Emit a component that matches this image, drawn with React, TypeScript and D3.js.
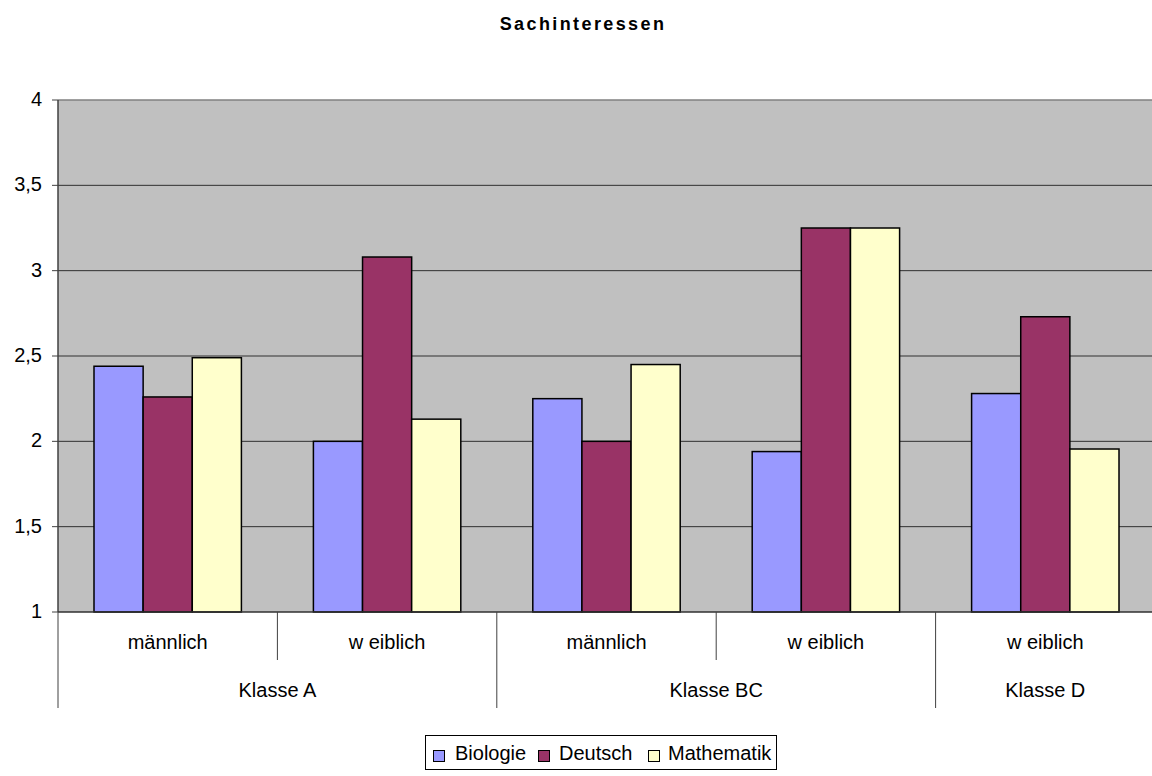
import React from "react";
import * as d3 from "d3";

const groups = ["A-m", "A-w", "BC-m", "BC-w", "D-w"];
const genderLabels = ["männlich", "w eiblich", "männlich", "w eiblich", "w eiblich"];
const classLabels = ["Klasse A", "Klasse BC", "Klasse D"];
const classSpans = [2, 2, 1];
const seriesNames = ["Biologie", "Deutsch", "Mathematik"];
const seriesColors = ["#9999FF", "#993366", "#FFFFCC"];
const biologie = [2.44, 2.0, 2.25, 1.94, 2.28];
const deutsch = [2.26, 3.08, 2.0, 3.25, 2.73];
const mathematik = [2.49, 2.13, 2.45, 3.25, 1.955];
const yTicks = [1, 1.5, 2, 2.5, 3, 3.5, 4];
const title = "Sachinteressen";

const W = 1152, H = 776;
const left = 58, right = 1155, top = 100, bottom = 612;
const FONT = "'Liberation Sans', Arial, sans-serif";

function T({ x, y, anchor = "middle", size = 20, bold = false, spacing = 0, children }: any) {
  return (
    <text
      x={x}
      y={y}
      textAnchor={anchor}
      fontFamily={FONT}
      fontSize={size}
      fontWeight={bold ? "bold" : "normal"}
      letterSpacing={spacing}
      fill="#000"
    >
      {children}
    </text>
  );
}

export default function App() {
  const series = [biologie, deutsch, mathematik];
  const x0 = d3.scaleBand().domain(groups).range([left, right]).paddingInner(0).paddingOuter(0);
  const bw = x0.bandwidth();
  const pad = 36 / 219.4;
  const x1 = d3
    .scaleBand()
    .domain(seriesNames)
    .range([bw * pad, bw * (1 - pad)])
    .padding(0);
  const y = d3.scaleLinear().domain([1, 4]).range([bottom, top]);
  const fmt = (v: number) => String(v).replace(".", ",");

  const boundaries: number[] = [];
  let idx = 0;
  const classCenters: number[] = [];
  classSpans.forEach((s) => {
    const start = x0(groups[idx])!;
    const endIdx = idx + s - 1;
    const end = x0(groups[endIdx])! + bw;
    classCenters.push((start + end) / 2);
    idx += s;
    boundaries.push(end);
  });

  return (
    <svg width={W} height={H} style={{ position: "absolute", left: 0, top: 0 }}>
      <rect x={0} y={0} width={W} height={H} fill="#fff" />
      <T x={583} y={30} size={18} bold spacing={2.4}>
        {title}
      </T>
      <rect x={left} y={top} width={right - left} height={bottom - top} fill="#C0C0C0" />
      <line x1={left} x2={right} y1={y(4)} y2={y(4)} stroke="#808080" strokeWidth={1.5} />
      {yTicks.slice(1, -1).map((t) => (
        <line key={t} x1={left} x2={right} y1={y(t)} y2={y(t)} stroke="#303030" strokeWidth={1} />
      ))}
      {groups.map((g, gi) =>
        series.map((s, si) => (
          <rect
            key={g + si}
            x={x0(g)! + x1(seriesNames[si])!}
            y={y(s[gi])}
            width={x1.bandwidth()}
            height={bottom - y(s[gi])}
            fill={seriesColors[si]}
            stroke="#000"
            strokeWidth={1.5}
          />
        ))
      )}
      <line x1={left} x2={left} y1={top} y2={bottom} stroke="#404040" strokeWidth={1.5} />
      {yTicks.map((t) => (
        <g key={t}>
          <line x1={left - 6} x2={left} y1={y(t)} y2={y(t)} stroke="#404040" strokeWidth={1} />
          <T x={42} y={y(t) + 6} anchor="end">
            {fmt(t)}
          </T>
        </g>
      ))}
      <line x1={left} x2={right} y1={bottom} y2={bottom} stroke="#303030" strokeWidth={1.5} />
      <line x1={left} x2={left} y1={bottom} y2={708} stroke="#404040" strokeWidth={1} />
      {groups.map((g, gi) => {
        const xe = x0(g)! + bw;
        const isClassBoundary = boundaries.some((b) => Math.abs(b - xe) < 0.5);
        return (
          <g key={g}>
            {xe < W && (
              <line
                x1={xe}
                x2={xe}
                y1={bottom}
                y2={isClassBoundary ? 708 : 660}
                stroke="#404040"
                strokeWidth={1}
              />
            )}
            <T x={x0(g)! + bw / 2} y={649}>
              {genderLabels[gi]}
            </T>
          </g>
        );
      })}
      {classLabels.map((c, ci) => (
        <T key={c} x={classCenters[ci]} y={697}>
          {c}
        </T>
      ))}
      <rect x={425.5} y={735.5} width={351} height={34} fill="#fff" stroke="#000" strokeWidth={1} />
      {seriesNames.map((n, i) => {
        const xs = [433, 538, 648][i];
        return (
          <g key={n}>
            <rect x={xs + 0.5} y={750.5} width={11} height={11} fill={seriesColors[i]} stroke="#000" strokeWidth={1} />
            <T x={[455, 559, 668][i]} y={760} anchor="start">
              {n}
            </T>
          </g>
        );
      })}
    </svg>
  );
}
